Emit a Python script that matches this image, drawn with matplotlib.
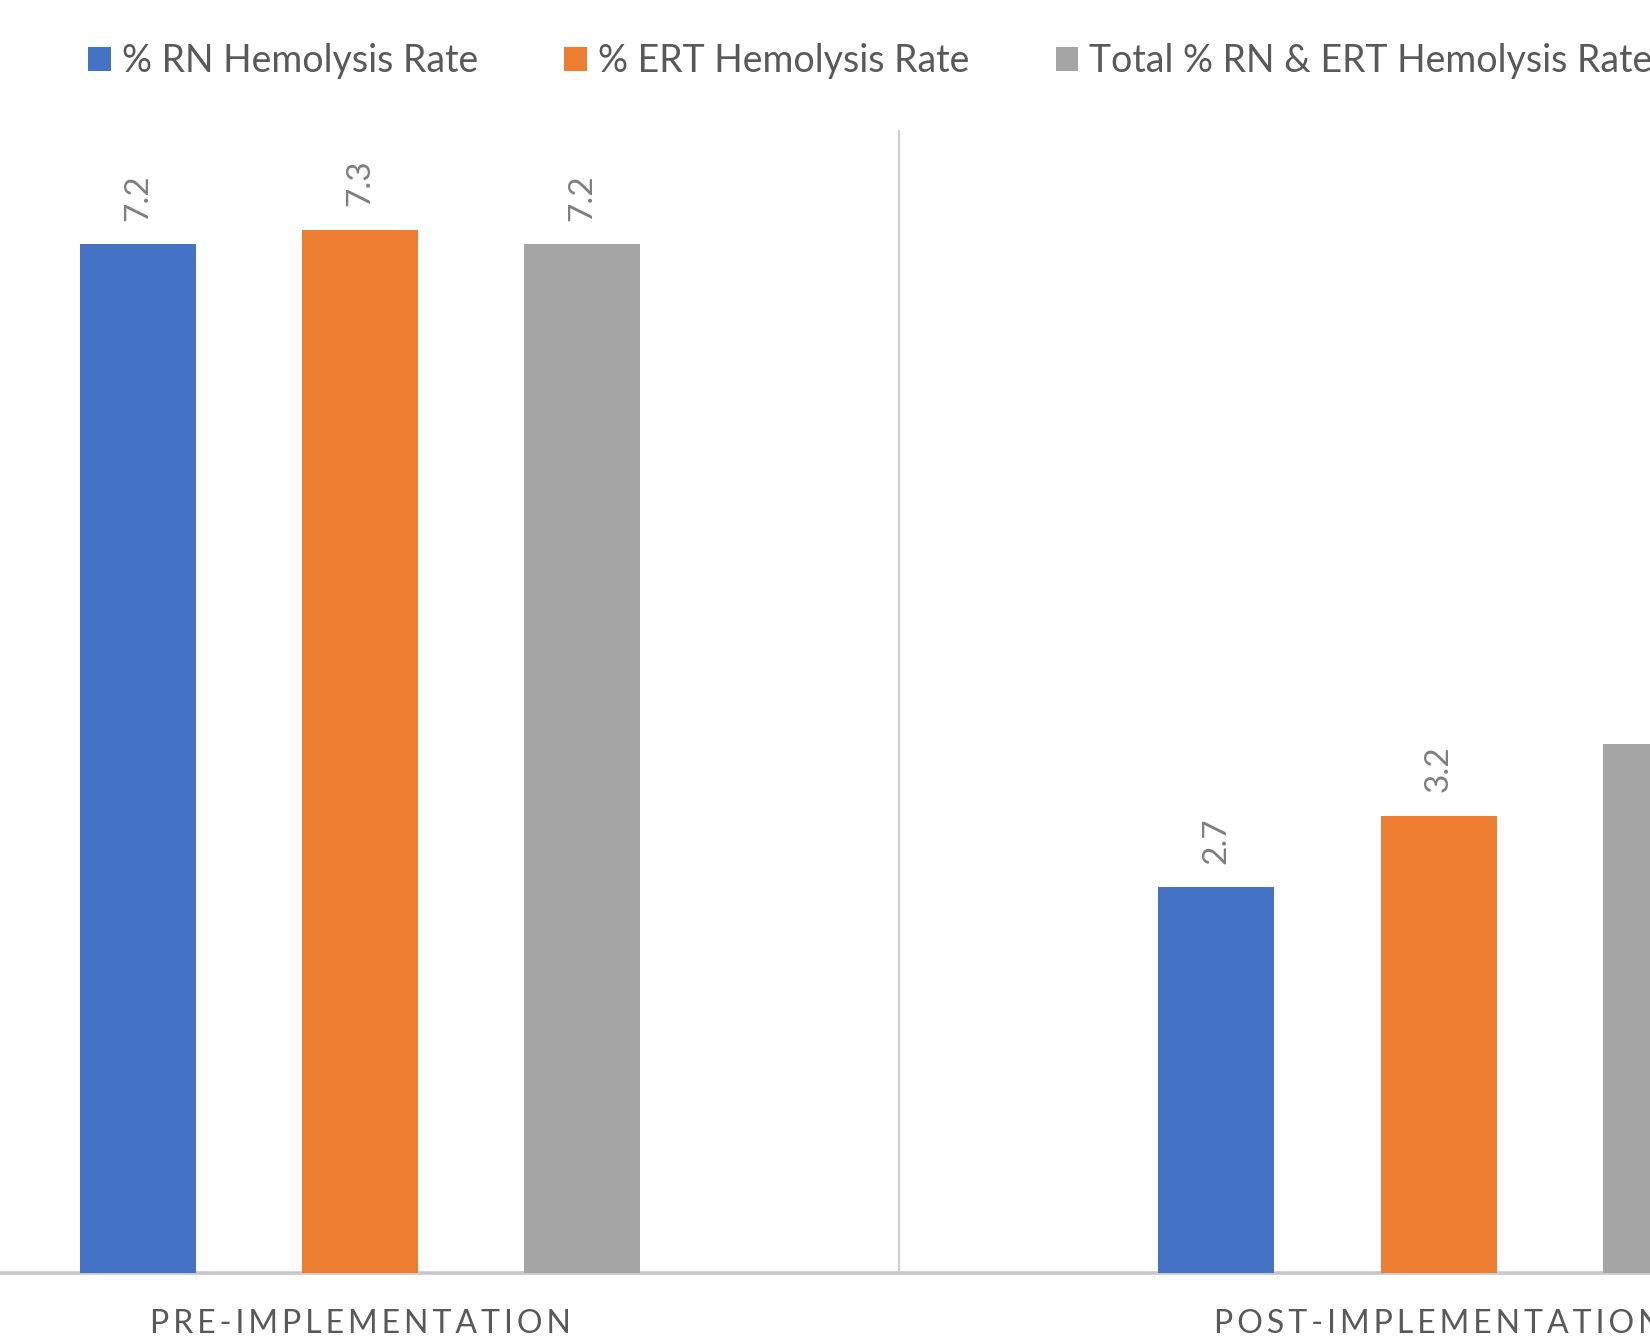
import matplotlib
matplotlib.use("Agg")
import matplotlib.pyplot as plt
from matplotlib.patches import Rectangle

# Hemolysis rates (%) before and after the implementation
categories = ["PRE-IMPLEMENTATION", "POST-IMPLEMENTATION"]
series_names = ["% RN Hemolysis Rate", "% ERT Hemolysis Rate", "Total % RN & ERT Hemolysis Rate"]
rn_rate = [7.2, 2.7]
ert_rate = [7.3, 3.2]
total_rate = [7.2, 3.7]

colors = ["#4472C4", "#ED7D31", "#A5A5A5"]
text_color = "#595959"
label_color = "#7F7F7F"
line_color = "#D0D0D0"

plt.rcParams["font.family"] = ["Lato", "DejaVu Sans"]

fig = plt.figure(figsize=(16.5, 13.44), dpi=100)
ax = fig.add_axes([0.0, 1 - 1273 / 1344, 1.0, (1273 - 130) / 1344])

offset = 0.206
width = 0.1076
x = list(range(len(categories)))
for i, (vals, name, col) in enumerate(zip([rn_rate, ert_rate, total_rate], series_names, colors)):
    pos = [xi + (i - 1) * offset for xi in x]
    bars = ax.bar(pos, vals, width=width, color=col, label=name, zorder=3)
    ax.bar_label(bars, labels=[f"{v:.1f}" for v in vals], padding=17, rotation=90,
                 fontsize=24, color=label_color)

ax.set_xlim(-0.334, 1.196)
ax.set_ylim(0, 8)
ax.axvline(0.5, color=line_color, lw=1.6, zorder=1)

for s in ["top", "left", "right"]:
    ax.spines[s].set_visible(False)
ax.spines["bottom"].set_color("#C8C8C8")
ax.spines["bottom"].set_linewidth(2.6)
ax.set_yticks([])
ax.set_xticks(x)
spaced = ["\u2009".join(c) for c in categories]
ax.set_xticklabels(spaced, fontsize=23, color=text_color)
ax.tick_params(axis="x", length=0, pad=26)

handles = [Rectangle((0, 0), 1, 1, facecolor=c) for c in colors]
fig.legend(handles, series_names, loc="upper left", bbox_to_anchor=(88 / 1650, 1 - 43 / 1344),
           ncol=3, frameon=False, fontsize=27, labelcolor=text_color,
           handlelength=0.6, handleheight=0.6, handletextpad=0.3, columnspacing=2.3,
           borderaxespad=0, borderpad=0)

fig.savefig("out.png", dpi=100)
